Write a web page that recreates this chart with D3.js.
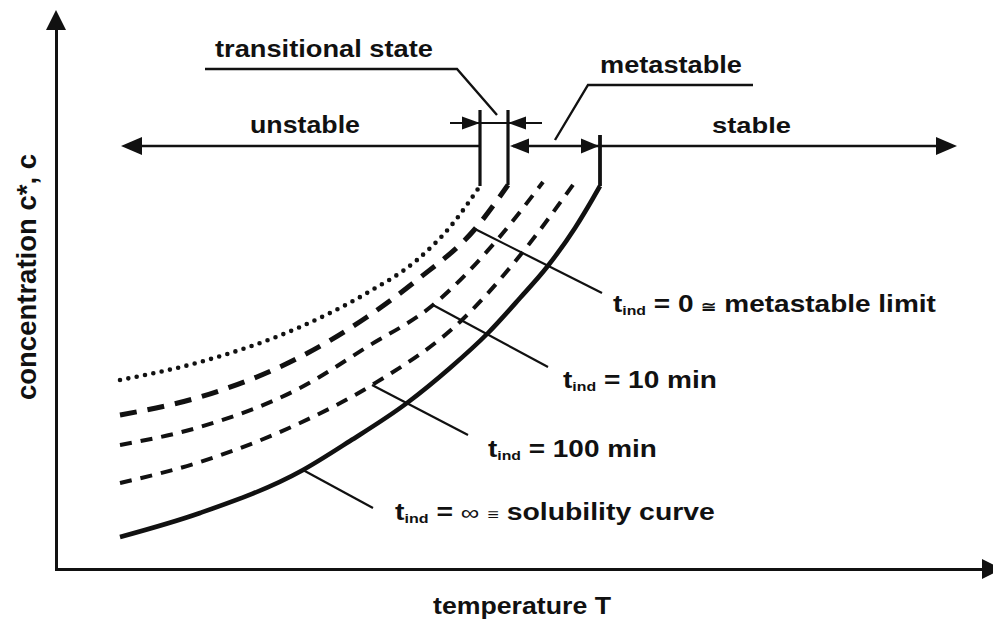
<!DOCTYPE html>
<html><head><meta charset="utf-8">
<script src="https://cdn.jsdelivr.net/npm/d3@7"></script>
<style>
html,body{margin:0;padding:0;background:#fff;}
svg{display:block;}
text{font-family:"Liberation Sans",Arial,sans-serif;font-weight:bold;fill:#111;white-space:pre;}
</style>
</head><body>
<svg id="chart" width="993" height="620"></svg>
<script>
// ---------- data (temperature T, concentration c; arbitrary units) ----------
const tempTransitional = [6.4, 14.4, 24.4, 31.1, 36.1, 39.4, 42.4];
const concTransitional = [37.8, 41.4, 48.4, 55.2, 61.8, 68.4, 76.6];
const tempLimit = [6.4, 14.4, 24.4, 31.1, 36.1, 41.9, 45.2];
const concLimit = [30.8, 34.4, 42.4, 50.4, 57.8, 68.0, 76.8];
const temp10 = [6.4, 14.4, 24.4, 31.1, 37.7, 44.1, 48.7];
const conc10 = [24.8, 28.4, 36.2, 44.4, 52.8, 65.8, 77.4];
const temp100 = [6.4, 14.4, 24.4, 31.6, 40.7, 46.6, 51.9];
const conc100 = [17.2, 21.4, 29.2, 36.8, 50.0, 63.2, 77.4];
const tempSol = [6.4, 14.4, 24.7, 29.4, 35.1, 39.4, 43.2, 46.4, 49.1, 51.9, 53.6, 54.4];
const concSol = [6.4, 11.2, 19.8, 25.6, 33.2, 40.2, 47.2, 54.2, 60.4, 68.2, 73.8, 76.6];

// region boundaries (vertical lines rising from curve ends)
const boundaryT = [42.4, 45.2, 54.4];
const boundaryBottomC = [76.6, 76.8, 76.6];
const boundaryTopC = [91.8, 91.8, 86.8];

// region arrow levels
const regionC = 84.6;
const regionLeftT = 6.5, regionRightT = 90.1;
const bracketC = 89.2, bracketLeftT = 39.4, bracketRightT = 48.6;

// curve label leaders: start on curve -> end near label
const leaderStartT = [41.9, 37.7, 31.6, 24.7];
const leaderStartC = [68.0, 52.8, 36.8, 19.8];
const leaderEndT = [54.6, 49.2, 41.2, 31.7];
const leaderEndC = [55.2, 40.4, 26.8, 12.2];

const labelRest = [" = 0 ", " = 10 min", " = 100 min", " = "];

// ---------- scales ----------
const svg = d3.select("#chart");
const x = d3.scaleLinear().domain([0, 93]).range([56, 986]);
const y = d3.scaleLinear().domain([0, 108]).range([569, 29]);
const ink = "#111";

// ---------- axes ----------
svg.append("g").attr("transform", `translate(0,${y(0)})`)
  .call(d3.axisBottom(x).tickValues([]).tickSizeOuter(0))
  .call(g => g.select(".domain").attr("stroke", ink).attr("stroke-width", 3).attr("stroke-linecap", "square"));
svg.append("g").attr("transform", `translate(${x(0)},0)`)
  .call(d3.axisLeft(y).tickValues([]).tickSizeOuter(0))
  .call(g => g.select(".domain").attr("stroke", ink).attr("stroke-width", 3).attr("stroke-linecap", "square"));

function arrowHead(tx, ty, dir, len, half) {
  let pts;
  if (dir === "r") pts = [[tx, ty], [tx - len, ty - half], [tx - len, ty + half]];
  else if (dir === "l") pts = [[tx, ty], [tx + len, ty - half], [tx + len, ty + half]];
  else pts = [[tx, ty], [tx - half, ty + len], [tx + half, ty + len]];
  svg.append("path").attr("d", "M" + pts.map(p => p.join(",")).join("L") + "Z").attr("fill", ink);
}
arrowHead(x(94.6), y(0), "r", 20, 10);
arrowHead(x(0), y(111.8), "u", 20, 10);

// ---------- curves ----------
const line = d3.line().x(d => x(d[0])).y(d => y(d[1])).curve(d3.curveMonotoneX);
const zip = (a, b) => a.map((v, i) => [v, b[i]]);
const series = [
  {t: tempTransitional, c: concTransitional, w: 4.6, dash: "0,8.5", cap: "round"},
  {t: tempLimit, c: concLimit, w: 5, dash: "17,11", cap: "butt"},
  {t: temp10, c: conc10, w: 4, dash: "12,9", cap: "butt"},
  {t: temp100, c: conc100, w: 4, dash: "12,9", cap: "butt"},
  {t: tempSol, c: concSol, w: 4.6, dash: null, cap: "butt"}
];
series.forEach(s => {
  const p = svg.append("path").attr("d", line(zip(s.t, s.c)))
    .attr("fill", "none").attr("stroke", ink).attr("stroke-width", s.w)
    .attr("stroke-linecap", s.cap);
  if (s.dash) p.attr("stroke-dasharray", s.dash);
});

// boundary verticals
boundaryT.forEach((t, i) => {
  svg.append("line").attr("x1", x(t)).attr("x2", x(t))
    .attr("y1", y(boundaryBottomC[i])).attr("y2", y(boundaryTopC[i]))
    .attr("stroke", ink).attr("stroke-width", i === 2 ? 3.8 : 3.2);
});

// ---------- region arrows ----------
function hline(t1, t2, c, w) {
  svg.append("line").attr("x1", x(t1)).attr("x2", x(t2)).attr("y1", y(c)).attr("y2", y(c))
    .attr("stroke", ink).attr("stroke-width", w);
}
hline(regionLeftT + 1, boundaryT[0], regionC, 2.6);
arrowHead(x(regionLeftT), y(regionC), "l", 21, 9);
hline(boundaryT[1] + 0.5, boundaryT[2], regionC, 2.6);
arrowHead(x(boundaryT[1]) + 2, y(regionC), "l", 19, 7.5);
arrowHead(x(boundaryT[2]) - 1, y(regionC), "r", 18, 7.5);
hline(boundaryT[2], regionRightT - 1, regionC, 2.6);
arrowHead(x(regionRightT), y(regionC), "r", 21, 9);

// transitional bracket
hline(bracketLeftT, bracketRightT, bracketC, 2.2);
arrowHead(x(boundaryT[0]), y(bracketC), "r", 18, 6.5);
arrowHead(x(boundaryT[1]), y(bracketC), "l", 18, 6.5);

// ---------- leaders ----------
leaderStartT.forEach((t, i) => {
  svg.append("line").attr("x1", x(t)).attr("y1", y(leaderStartC[i]))
    .attr("x2", x(leaderEndT[i])).attr("y2", y(leaderEndC[i]))
    .attr("stroke", ink).attr("stroke-width", 2.2);
});
svg.append("path").attr("d", `M${x(14.9)},${y(100)}H${x(40.1)}L${x(44.1)},${y(90.8)}`)
  .attr("fill", "none").attr("stroke", ink).attr("stroke-width", 2.4);
svg.append("path").attr("d", `M${x(69.7)},${y(96.8)}H${x(53.2)}L${x(49.9)},${y(85.8)}`)
  .attr("fill", "none").attr("stroke", ink).attr("stroke-width", 2.4);

// ---------- text ----------
function label(px, py, width, parts, size) {
  const t = svg.append("text").attr("font-size", size || 23);
  parts.forEach(p => {
    const ts = t.append("tspan").text(p.t);
    if (p.size) ts.attr("font-size", p.size);
    if (p.dy) ts.attr("dy", p.dy);
    if (p.weight) ts.attr("font-weight", p.weight);
  });
  const bb = t.node().getBBox();
  const sx = width / bb.width;
  t.attr("transform", `translate(${px - bb.x * sx},${py}) scale(${sx},1)`);
  return t;
}
const sub = [{t: "t"}, {t: "ind", size: 13, dy: 3}];
label(613, 312, 324, [...sub, {t: labelRest[0], dy: -3}, {t: "≅", size: 15}, {t: " metastable limit"}]);
label(563, 388, 154, [...sub, {t: labelRest[1], dy: -3}]);
label(488, 457, 169, [...sub, {t: labelRest[2], dy: -3}]);
label(395, 520, 320, [...sub, {t: labelRest[3], dy: -3}, {t: "∞", size: 21, weight: "normal"}, {t: " "}, {t: "≡", size: 16}, {t: " solubility curve"}]);

label(215, 57, 218, [{t: "transitional state"}]);
label(600, 73, 142, [{t: "metastable"}]);
label(250, 133, 110, [{t: "unstable"}]);
label(712, 133, 79, [{t: "stable"}]);
label(433, 614, 178, [{t: "temperature T"}]);

svg.append("text").attr("transform", "translate(36,277) rotate(-90)")
  .attr("text-anchor", "middle").attr("font-size", 27.5)
  .text("concentration c*, c");
</script>
</body></html>
